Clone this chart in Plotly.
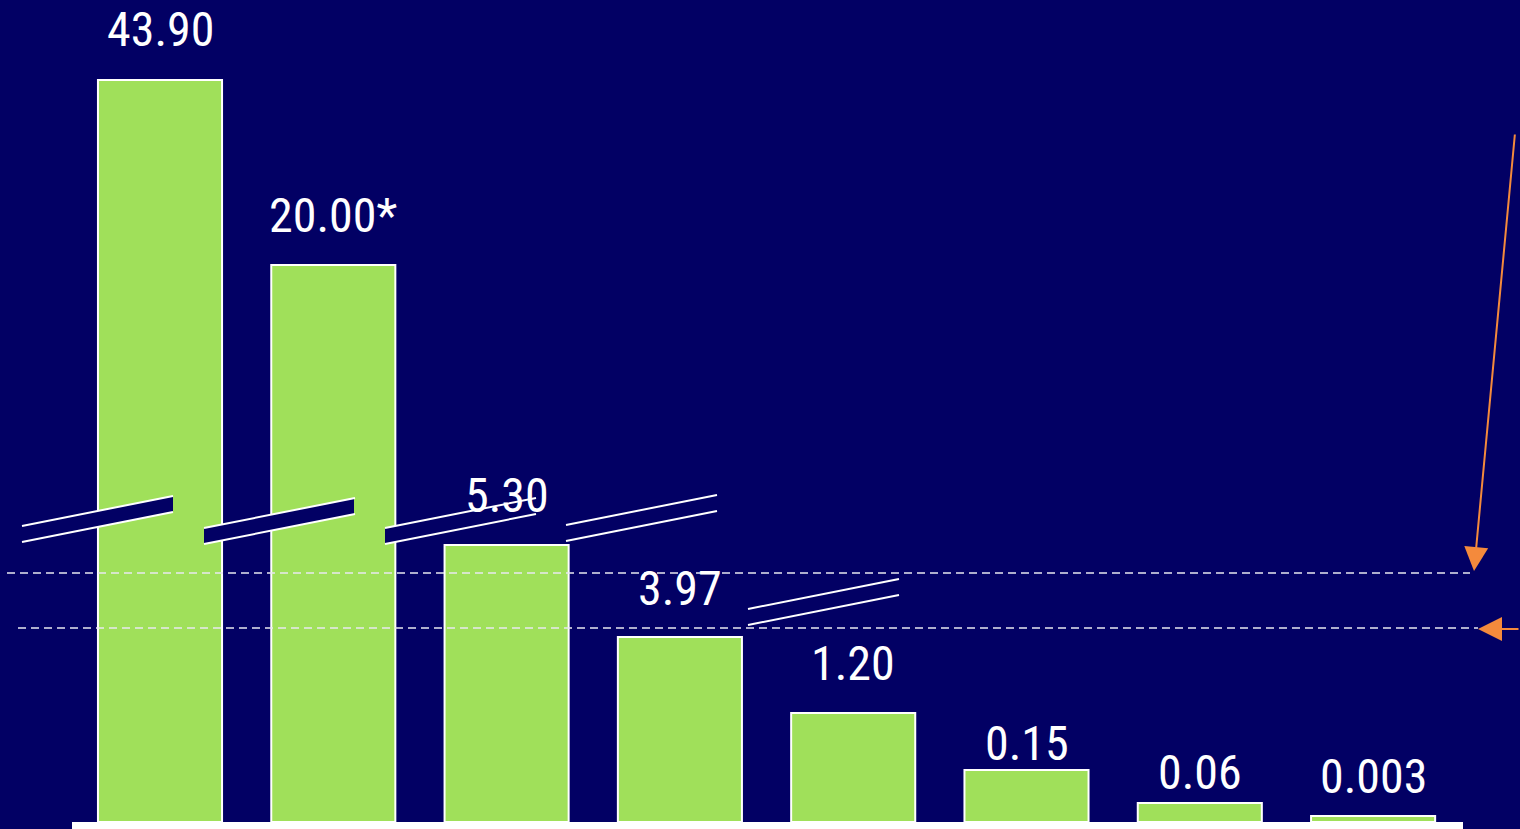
import plotly.graph_objects as go

# ---- data ----
categories = ["A", "B", "C", "D", "E", "F", "G", "H"]
value_labels = ["43.90", "20.00*", "5.30", "3.97", "1.20", "0.15", "0.06", "0.003"]
# drawn bar heights on the (broken) display scale
display_heights = [742, 557, 277, 185, 109, 52, 19, 6]

# ---- style ----
W, H = 1520, 829
BG = "#020064"
GREEN = "#a0e05a"
ORANGE = "#f48a3c"
FONT = "Liberation Sans Narrow, Arial Narrow, Roboto Condensed, DejaVu Sans Condensed, sans-serif"
label_gap = [51, 50, 50, 49, 50, 27, 31, 40]


def P(x, y):
    return x / W, 1 - y / H


xs = list(range(len(categories)))
fig = go.Figure()
fig.add_trace(go.Bar(
    x=xs, y=display_heights, width=0.716,
    marker=dict(color=GREEN, line=dict(color="white", width=2)),
    hoverinfo="skip",
))

shapes = []
# baseline
x0, y0 = P(72, 822)
x1, y1 = P(1463, 829)
shapes.append(dict(type="rect", xref="paper", yref="paper", x0=x0, y0=y1, x1=x1, y1=y0,
                   fillcolor="white", line=dict(width=0), layer="above"))

# dashed reference lines
for (xa, xb, yy) in [(7, 1470, 573), (18, 1478, 628)]:
    a = P(xa, yy); b = P(xb, yy)
    shapes.append(dict(type="line", xref="paper", yref="paper", x0=a[0], y0=a[1], x1=b[0], y1=b[1],
                       line=dict(color="#e8e8f0", width=1.5, dash="8px,5px"), layer="above"))

# axis-break marks: (x_left, y_top_at_left, fill_from, fill_to)
breaks = [(22, 526, 22, 173), (204, 528, 204, 354), (385, 528, 385, 397), (566, 525, None, None),
          (748, 609, None, None)]
LEN, RISE, SEP = 151, 30, 16
for (xl, yt, f0, f1) in breaks:
    def ytop(x):
        return yt - RISE * (x - xl) / LEN
    if f0 is not None:
        pts = [P(f0, ytop(f0)), P(f1, ytop(f1)), P(f1, ytop(f1) + SEP), P(f0, ytop(f0) + SEP)]
        path = "M " + " L ".join(f"{p[0]},{p[1]}" for p in pts) + " Z"
        shapes.append(dict(type="path", xref="paper", yref="paper", path=path,
                           fillcolor=BG, line=dict(width=0), layer="above"))
    for off in (0, SEP):
        a = P(xl, yt + off); b = P(xl + LEN, yt - RISE + off)
        shapes.append(dict(type="line", xref="paper", yref="paper", x0=a[0], y0=a[1], x1=b[0], y1=b[1],
                           line=dict(color="white", width=2), layer="above"))

annotations = []
for i, (lab, h) in enumerate(zip(value_labels, display_heights)):
    annotations.append(dict(x=xs[i], y=h, xref="x", yref="y", text=lab, showarrow=False,
                            yanchor="middle", yshift=label_gap[i],
                            font=dict(family=FONT, size=48, color="white")))

# orange arrows
tip1 = P(1474, 571)
annotations.append(dict(x=tip1[0], y=tip1[1], xref="paper", yref="paper", text="", showarrow=True,
                        ax=1515 - 1474, ay=133 - 571, arrowhead=2, arrowsize=2.4, arrowwidth=2,
                        arrowcolor=ORANGE, standoff=0))
tip2 = P(1478, 629)
annotations.append(dict(x=tip2[0], y=tip2[1], xref="paper", yref="paper", text="", showarrow=True,
                        ax=1530 - 1478, ay=0, arrowhead=2, arrowsize=2.4, arrowwidth=2,
                        arrowcolor=ORANGE, standoff=0))

fig.update_layout(
    width=W, height=H, margin=dict(l=0, r=0, t=0, b=0),
    paper_bgcolor=BG, plot_bgcolor=BG, showlegend=False,
    xaxis=dict(range=[-160 / 173.3, (W - 160) / 173.3], visible=False, fixedrange=True),
    yaxis=dict(range=[-7, 822], visible=False, fixedrange=True),
    shapes=shapes, annotations=annotations,
)
fig.write_html("out.html", config={"displayModeBar": False},
               post_script="document.body.style.margin='0';document.body.style.overflow='hidden';")
